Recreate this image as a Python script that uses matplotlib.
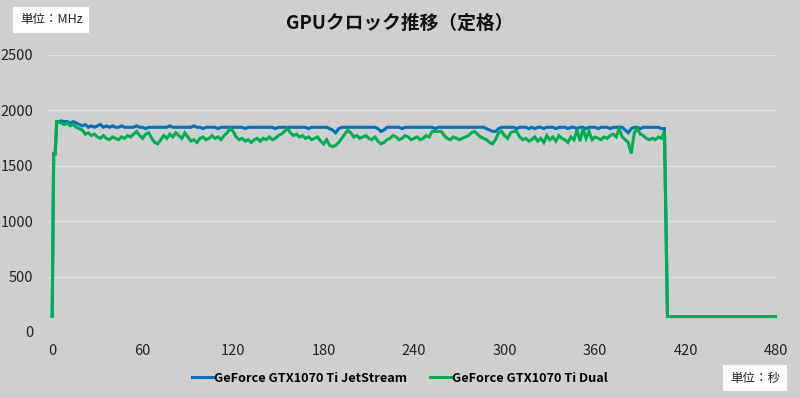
import numpy as np
import matplotlib
matplotlib.use("Agg")
import matplotlib.pyplot as plt

plt.rcParams['font.family'] = ['Noto Sans CJK JP', 'DejaVu Sans']

# data: 1 s steps at the start, then every 2 s
seconds = np.concatenate([[0, 1, 2, 3], np.arange(4, 481, 2)])

jetstream = [
    139, 1607, 1607, 1898,
    1898, 1905, 1898, 1898, 1885, 1898, 1885, 1872, 1860,
    1872, 1847, 1860, 1847, 1860, 1872, 1847, 1860, 1847, 1860,
    1847, 1847, 1860, 1847, 1847, 1847, 1847, 1860, 1847, 1847,
    1835, 1847, 1847, 1847, 1847, 1847, 1847, 1847, 1860, 1847,
    1847, 1847, 1847, 1847, 1847, 1847, 1860, 1847, 1847, 1835,
    1847, 1847, 1847, 1847, 1835, 1847, 1847, 1847, 1847, 1847,
    1847, 1847, 1847, 1835, 1847, 1847, 1847, 1847, 1847, 1847,
    1847, 1847, 1847, 1835, 1847, 1847, 1847, 1847, 1847, 1847,
    1847, 1847, 1847, 1847, 1835, 1847, 1847, 1847, 1847, 1847,
    1847, 1835, 1822, 1797, 1835, 1847, 1847, 1847, 1847, 1847,
    1847, 1847, 1847, 1847, 1847, 1847, 1847, 1835, 1810, 1822,
    1847, 1847, 1847, 1847, 1847, 1835, 1847, 1847, 1847, 1847,
    1847, 1847, 1847, 1847, 1847, 1847, 1835, 1847, 1847, 1847,
    1847, 1847, 1847, 1847, 1847, 1847, 1847, 1847, 1847, 1847,
    1847, 1847, 1847, 1835, 1822, 1810, 1810, 1835, 1847, 1847,
    1847, 1847, 1847, 1835, 1847, 1847, 1847, 1835, 1847, 1835,
    1847, 1847, 1835, 1847, 1847, 1847, 1835, 1847, 1847, 1847,
    1835, 1847, 1847, 1835, 1847, 1847, 1835, 1847, 1847, 1847,
    1835, 1847, 1847, 1847, 1835, 1847, 1847, 1847, 1847, 1822,
    1797, 1835, 1847, 1847, 1835, 1847, 1847, 1847, 1847, 1847,
    1847, 1835, 1835,
    139, 139, 139, 139, 139, 139, 139, 139, 139, 139,
    139, 139, 139, 139, 139, 139, 139, 139, 139, 139,
    139, 139, 139, 139, 139, 139, 139, 139, 139, 139,
    139, 139, 139, 139, 139, 139, 139,
]

dual = [
    139, 1607, 1607, 1898,
    1898, 1885, 1872, 1885, 1860, 1872, 1847, 1835, 1822,
    1785, 1797, 1772, 1785, 1760, 1747, 1772, 1747, 1735, 1760,
    1747, 1735, 1760, 1747, 1772, 1760, 1785, 1810, 1772, 1747,
    1785, 1797, 1747, 1710, 1697, 1735, 1772, 1747, 1785, 1760,
    1797, 1772, 1747, 1797, 1760, 1722, 1735, 1710, 1747, 1760,
    1735, 1747, 1772, 1747, 1760, 1735, 1772, 1797, 1835, 1810,
    1760, 1735, 1747, 1722, 1735, 1710, 1735, 1747, 1722, 1747,
    1735, 1760, 1735, 1747, 1772, 1785, 1810, 1835, 1797, 1772,
    1785, 1760, 1772, 1747, 1760, 1735, 1747, 1760, 1722, 1697,
    1735, 1685, 1672, 1685, 1710, 1747, 1785, 1822, 1797, 1760,
    1772, 1747, 1760, 1772, 1747, 1735, 1760, 1722, 1697, 1710,
    1735, 1747, 1772, 1760, 1735, 1747, 1772, 1760, 1735, 1747,
    1760, 1735, 1747, 1772, 1760, 1810, 1810, 1810, 1810, 1772,
    1747, 1735, 1760, 1747, 1735, 1747, 1760, 1772, 1797, 1810,
    1785, 1760, 1747, 1735, 1710, 1697, 1735, 1797, 1810, 1772,
    1747, 1797, 1810, 1810, 1760, 1735, 1747, 1722, 1735, 1760,
    1722, 1747, 1710, 1772, 1735, 1760, 1722, 1772, 1747, 1735,
    1710, 1760, 1735, 1822, 1722, 1835, 1747, 1810, 1735, 1760,
    1747, 1735, 1760, 1747, 1772, 1785, 1760, 1835, 1760, 1735,
    1710, 1610, 1797, 1835, 1785, 1772, 1747, 1735, 1747, 1735,
    1760, 1747, 1810,
    139, 139, 139, 139, 139, 139, 139, 139, 139, 139,
    139, 139, 139, 139, 139, 139, 139, 139, 139, 139,
    139, 139, 139, 139, 139, 139, 139, 139, 139, 139,
    139, 139, 139, 139, 139, 139, 139,
]

labels = ['GeForce GTX1070 Ti JetStream', 'GeForce GTX1070 Ti Dual']
colors = ['#0070C0', '#00B050']
x_ticks = [0, 60, 120, 180, 240, 300, 360, 420, 480]
y_ticks = [0, 500, 1000, 1500, 2000, 2500]

bg = '#d0cfcf'
fig = plt.figure(figsize=(8, 3.98), dpi=100, facecolor=bg)
ax = fig.add_axes([0.059, 0.166, 0.912, 0.696], facecolor=bg)

ax.plot(seconds, jetstream, color=colors[0], lw=2.2, label=labels[0], solid_joinstyle='miter')
ax.plot(seconds, dual, color=colors[1], lw=2.2, label=labels[1], solid_joinstyle='miter')

ax.set_xlim(-3.3, 480.5)
ax.set_ylim(0, 2500)
ax.set_xticks(x_ticks)
ax.set_yticks(y_ticks)
ax.grid(axis='y', color='#e2e2e2', lw=0.9)
ax.set_axisbelow(True)
for s in ax.spines.values():
    s.set_visible(False)
ax.tick_params(length=0, labelsize=10.5, colors='#222222')
ax.tick_params(axis='x', pad=9)
ax.tick_params(axis='y', pad=10)

fig.text(0.5, 0.942, 'GPUクロック推移（定格）', ha='center', va='center',
         fontsize=13.5, fontweight='bold', color='#111111')
fig.text(0.064, 0.95, '単位：MHz', ha='center', va='center', fontsize=9, color='#222222',
         bbox=dict(boxstyle='square,pad=0.55', fc='white', ec='none'))
fig.text(0.944, 0.05, '単位：秒', ha='center', va='center', fontsize=9, color='#222222',
         bbox=dict(boxstyle='square,pad=0.55', fc='white', ec='none'))

leg = fig.legend(loc='center', bbox_to_anchor=(0.5, 0.05), ncol=2, frameon=False,
                 handlelength=1.6, handletextpad=0.1, columnspacing=1.8,
                 prop={'size': 9.2, 'weight': 'bold'})

fig.savefig('out.png', dpi=100, facecolor=bg)
